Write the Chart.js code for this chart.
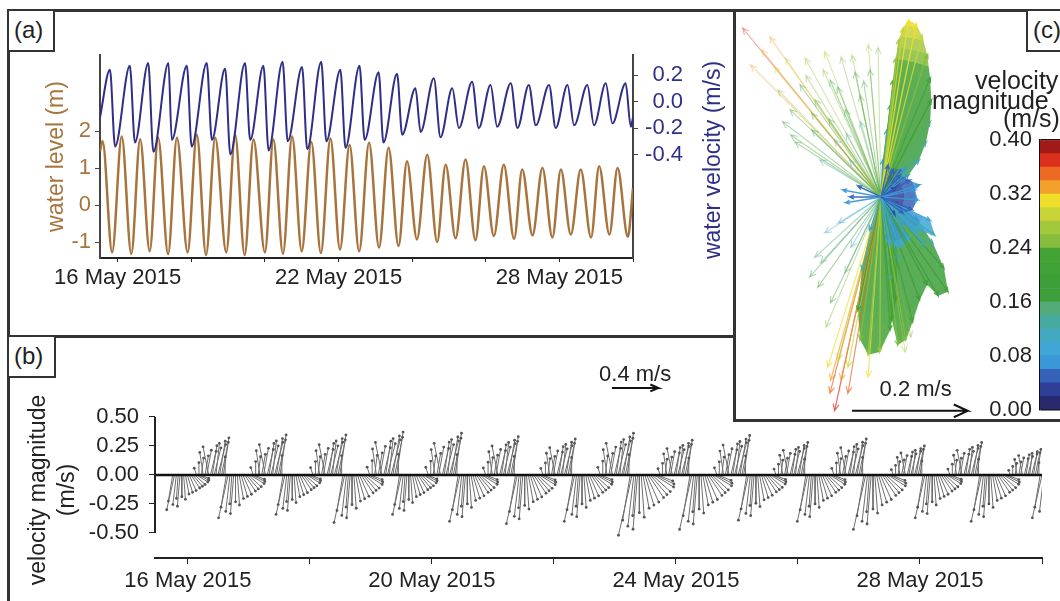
<!DOCTYPE html>
<html>
<head>
<meta charset="utf-8">
<title>Water level, velocity and velocity vectors, May 2015</title>
<script src="https://cdn.jsdelivr.net/npm/chart.js@4.4.1/dist/chart.umd.min.js"></script>
<style>
  html, body { margin: 0; padding: 0; background: #fff; }
  body { position: relative; width: 1060px; height: 601px; overflow: hidden; font-family: "Liberation Sans", Arial, sans-serif; color: #222; }
  canvas { position: absolute; }
  .rule { position: absolute; background: #333; }
  .tag { position: absolute; box-sizing: border-box; border: 2px solid #333; background: #fff; font-size: 24px; line-height: 38px; padding-left: 5px; }
  .rot { position: absolute; white-space: nowrap; text-align: center; transform: rotate(-90deg); font-size: 23px; width: 260px; height: 30px; line-height: 30px; }
  .cbt { position: absolute; white-space: nowrap; font-size: 25px; line-height: 24px; }
</style>
</head>
<body>
<canvas id="chartA" width="675" height="325" style="left:8px;top:12px"></canvas>
<canvas id="chartB" width="1052" height="261" style="left:8px;top:340px"></canvas>
<canvas id="chartC" width="323" height="408" style="left:737px;top:12px"></canvas>
<canvas id="chartCB" width="75" height="312" style="left:985px;top:119px"></canvas>

<div class="rule" style="left:7px;top:9px;width:1053px;height:3px"></div>
<div class="rule" style="left:7px;top:9px;width:3px;height:592px"></div>
<div class="rule" style="left:7px;top:335px;width:728px;height:3px"></div>
<div class="rule" style="left:733px;top:9px;width:3px;height:413px"></div>
<div class="rule" style="left:733px;top:419px;width:327px;height:3px"></div>
<div class="tag" style="left:7px;top:9px;width:48px;height:43px">(a)</div>
<div class="tag" style="left:7px;top:335px;width:49px;height:43px">(b)</div>
<div class="tag" style="left:1026px;top:9px;width:45px;height:43px">(c)</div>

<div class="rot" style="left:582px;top:145px;color:#2f2f88">water velocity (m/s)</div>
<div class="rot" style="left:-93px;top:475px">velocity magnitude</div>
<div class="rot" style="left:-64px;top:475px">(m/s)</div>
<div class="cbt" style="left:975px;top:68px">velocity</div>
<div class="cbt" style="left:932px;top:88px">magnitude</div>
<div class="cbt" style="left:1003px;top:106px">(m/s)</div>

<script>
// ---------- (a) highs and lows (day of May 2015) ----------
const levelTimes = [15.52, 15.59, 15.85, 16.11, 16.37, 16.61, 16.87, 17.10, 17.37, 17.61, 17.90, 18.15, 18.40, 18.65,
  18.95, 19.19, 19.45, 19.69, 20.00, 20.23, 20.49, 20.74, 21.00, 21.26, 21.52, 21.78, 22.04, 22.30, 22.56, 22.83,
  23.10, 23.36, 23.63, 23.86, 24.13, 24.41, 24.68, 24.91, 25.18, 25.45, 25.72, 25.95, 26.22, 26.49, 26.77, 26.99,
  27.27, 27.54, 27.81, 28.04, 28.31, 28.58, 28.86, 29.08, 29.36, 29.58, 29.86, 30.00];
const levelValues = [1.45, 1.72, -1.28, 1.85, -1.32, 1.78, -1.25, 1.82, -1.33, 1.82, -1.28, 1.90, -1.35, 1.82,
  -1.28, 1.90, -1.35, 1.77, -1.28, 1.77, -1.32, 1.85, -1.25, 1.70, -1.30, 1.80, -1.20, 1.62, -1.25, 1.68,
  -1.15, 1.55, -1.11, 1.18, -0.93, 1.36, -1.00, 1.09, -0.90, 1.23, -0.95, 1.05, -0.84, 1.09, -0.92, 0.96,
  -0.82, 1.00, -0.88, 0.96, -0.80, 0.96, -0.88, 1.05, -0.80, 1.00, -0.86, 0.45];
const velTimes = [15.52, 15.79, 15.93, 16.33, 16.47, 16.83, 16.97, 17.38, 17.47, 17.88, 18.01, 18.42, 18.56, 18.92,
  19.06, 19.46, 19.60, 19.96, 20.10, 20.48, 20.62, 21.01, 21.15, 21.53, 21.67, 22.05, 22.19, 22.57, 22.71, 23.09,
  23.22, 23.59, 23.73, 24.09, 24.23, 24.59, 24.77, 25.09, 25.27, 25.63, 25.81, 26.13, 26.31, 26.68, 26.86, 27.17,
  27.36, 27.72, 27.90, 28.22, 28.40, 28.76, 28.94, 29.26, 29.44, 29.80, 29.94, 30.00];
const velValues = [-0.12, 0.24, -0.34, 0.27, -0.31, 0.29, -0.38, 0.29, -0.29, 0.27, -0.34, 0.29, -0.29, 0.25,
  -0.40, 0.29, -0.29, 0.27, -0.37, 0.30, -0.30, 0.26, -0.36, 0.30, -0.30, 0.24, -0.35, 0.27, -0.29, 0.22,
  -0.31, 0.21, -0.25, 0.10, -0.23, 0.175, -0.27, 0.10, -0.20, 0.15, -0.20, 0.125, -0.19, 0.137, -0.20, 0.125,
  -0.18, 0.125, -0.20, 0.125, -0.18, 0.125, -0.18, 0.137, -0.165, 0.137, -0.19, -0.12];
const tickDaysA = [16, 18, 20, 22, 24, 26, 28, 30];
const labelDaysA = [16, 22, 28];
const levelTicks = [-1, 0, 1, 2];
const velTicks = [-0.4, -0.2, 0, 0.2];

// ---------- (b) stick plot: one flood/ebb pattern, scaled per tidal cycle ----------
const cycleTimes = [15.70, 16.58, 17.51, 18.49, 19.42, 20.38, 21.32, 22.26, 23.20, 24.18, 25.11, 26.08, 27.03, 28.00, 28.93, 29.92];
const floodPeak = [0, 0.32, 0.345, 0.345, 0.37, 0.36, 0.33, 0.31, 0.36, 0.30, 0.34, 0.28, 0.31, 0.25, 0.28, 0.22];
const ebbPeak = [0.30, 0.37, 0.34, 0.41, 0.34, 0.40, 0.42, 0.40, 0.52, 0.47, 0.39, 0.40, 0.47, 0.37, 0.40, 0.37];
const floodOffset = [-0.44, -0.40, -0.36, -0.33, -0.30, -0.27, -0.24, -0.21, -0.18, -0.15, -0.12, -0.09, -0.06, -0.03, 0.00, 0.03];
const floodU = [-0.02, 0.00, 0.02, -0.03, 0.03, 0.04, -0.05, 0.05, 0.04, 0.06, 0.03, 0.07, 0.05, 0.06, 0.05, 0.00];
const floodV = [0.06, 0.11, 0.15, 0.20, 0.17, 0.22, 0.25, 0.21, 0.26, 0.24, 0.28, 0.27, 0.30, 0.29, 0.33, 0.16];
const ebbOffset = [0.05, 0.08, 0.11, 0.14, 0.17, 0.20, 0.23, 0.26, 0.29, 0.32, 0.35, 0.38, 0.41, 0.44, 0.47, 0.50];
const ebbU = [-0.05, -0.09, -0.04, -0.02, -0.03, 0.00, 0.02, 0.04, 0.06, 0.08, 0.10, 0.11, 0.12, 0.13, 0.12, 0.10];
const ebbV = [-0.30, -0.40, -0.34, -0.27, -0.36, -0.25, -0.28, -0.22, -0.20, -0.18, -0.15, -0.13, -0.11, -0.08, -0.06, -0.04];
const tickDaysB = [16, 18, 20, 22, 24, 26, 28, 30];
const labelDaysB = [16, 20, 24, 28];
const stickTicks = [-0.5, -0.25, 0, 0.25, 0.5];

// ---------- (c) velocity vectors (east, north in m/s) ----------
const upperFanU = [-0.239, -0.192, -0.225, -0.178, -0.131, -0.097, -0.069, -0.045, -0.022, -0.005, -0.156, -0.157,
  -0.114, -0.088, -0.140, -0.119, -0.062, -0.036, -0.080, -0.054, -0.106, -0.149, -0.206, -0.019,
  -0.170, -0.130, -0.100, -0.075, -0.050, -0.030, -0.120, -0.090, -0.185, -0.165, -0.060, -0.035];
const upperFanV = [0.292, 0.277, 0.228, 0.185, 0.240, 0.251, 0.242, 0.216, 0.263, 0.258, 0.107, 0.151,
  0.168, 0.202, 0.194, 0.116, 0.151, 0.176, 0.099, 0.064, 0.064, 0.095, 0.254, 0.220,
  0.130, 0.210, 0.220, 0.190, 0.245, 0.200, 0.145, 0.135, 0.225, 0.240, 0.110, 0.130];
const lowerFanU = [-0.123, -0.114, -0.097, -0.074, -0.109, -0.095, -0.087, -0.062, -0.104, -0.052, 0.052, 0.042];
const lowerFanV = [-0.138, -0.104, -0.062, -0.045, -0.156, -0.225, -0.183, -0.131, -0.114, -0.087, -0.242, -0.268];
const redFanU = [-0.080, -0.087, -0.088, -0.074, -0.069, -0.057, -0.092, -0.022, -0.057];
const redFanV = [-0.369, -0.317, -0.339, -0.282, -0.317, -0.294, -0.294, -0.311, -0.339];
const upperLobeU = [0.003, 0.010, 0.016, 0.021, 0.026, 0.031, 0.038, 0.048, 0.061, 0.071, 0.080, 0.085, 0.087, 0.085, 0.078, 0.066, 0.048, 0.026];
const upperLobeV = [0.064, 0.116, 0.159, 0.202, 0.240, 0.272, 0.292, 0.306, 0.299, 0.279, 0.246, 0.206, 0.168, 0.130, 0.095, 0.064, 0.038, 0.016];
const lowerLobeU = [-0.019, -0.033, -0.040, -0.036, -0.022, -0.002, 0.016, 0.026, 0.029, 0.024];
const lowerLobeV = [-0.057, -0.126, -0.196, -0.247, -0.273, -0.268, -0.230, -0.178, -0.109, -0.057];
const rightLobeU = [0.033, 0.064, 0.090, 0.109, 0.116, 0.099, 0.080, 0.067, 0.055, 0.043, 0.029, 0.019, 0.016, 0.012];
const rightLobeV = [-0.014, -0.040, -0.080, -0.123, -0.164, -0.171, -0.152, -0.178, -0.216, -0.247, -0.256, -0.213, -0.144, -0.074];
const cyanU = [0.085, 0.093, 0.059, 0.076, 0.042, 0.024, 0.050, 0.033, 0.016];
const cyanV = [-0.040, -0.066, -0.057, -0.083, -0.048, -0.031, -0.074, -0.088, -0.083];
const blueU = [0.012, 0.021, 0.042, 0.033, 0.050, 0.067, 0.059, 0.064, 0.054, 0.038];
const blueV = [0.055, 0.047, 0.050, 0.038, 0.029, 0.021, 0.012, -0.005, -0.022, -0.028];
const blueLeftU = [-0.066, -0.054, -0.040, -0.061];
const blueLeftV = [0.012, 0.000, 0.019, -0.010];

// colour bar, 0.02 m/s per band, from 0.00 upwards
const cbarColors = ['#29296f', '#2f3f98', '#3462b6', '#3a98d8', '#3fa6d6', '#42a9c0', '#47aaa0', '#53ab7c', '#3e9f3c', '#3d9f38',
  '#40a136', '#45a336', '#86bd3c', '#a2c83e', '#c8d436', '#efdf2a', '#f3a12c', '#ec6a24', '#dc2f1e', '#a11a18'];
const cbarTicks = [0, 0.08, 0.16, 0.24, 0.32, 0.40];

// ---------- shared look ----------
const INK = '#222';
const BROWN = '#a8743e';
const NAVY = '#2f2f88';
const FONT = { family: "'Liberation Sans', Arial, sans-serif", size: 22 };
Chart.defaults.font.family = FONT.family;
const noChrome = { legend: { display: false }, tooltip: { enabled: false } };

function hexA(hex, a) {
  const n = parseInt(hex.slice(1), 16);
  return 'rgba(' + (n >> 16) + ',' + ((n >> 8) & 255) + ',' + (n & 255) + ',' + a + ')';
}
function magColor(m, a) {
  const k = Math.max(0, Math.min(cbarColors.length - 1, Math.floor(m / 0.02)));
  return hexA(cbarColors[k], a);
}
function fixedTicks(list) {
  return s => { s.ticks = list.map(v => ({ value: v })); };
}

// ---------- (a) ----------
new Chart(document.getElementById('chartA'), {
  type: 'line',
  data: {
    datasets: [
      { data: velTimes.map((t, i) => ({ x: t, y: velValues[i] })), yAxisID: 'y2', borderColor: NAVY, borderWidth: 2,
        pointRadius: 0, cubicInterpolationMode: 'monotone' },
      { data: levelTimes.map((t, i) => ({ x: t, y: levelValues[i] })), yAxisID: 'y', borderColor: BROWN, borderWidth: 2.5,
        pointRadius: 0, cubicInterpolationMode: 'monotone' }
    ]
  },
  options: {
    responsive: false, animation: false, events: [],
    layout: { padding: { top: 43, left: 0, right: 0, bottom: 0 } },
    plugins: noChrome,
    scales: {
      x: {
        type: 'linear', min: 15.52, max: 30, afterBuildTicks: fixedTicks(tickDaysA),
        ticks: { autoSkip: false, maxRotation: 0, color: INK, font: FONT, padding: 3,
          callback: v => labelDaysA.includes(v) ? v + ' May 2015' : '' },
        grid: { drawOnChartArea: false, tickLength: 4, color: INK },
        border: { color: INK, width: 2 },
        afterFit: s => { s.height = 79; }
      },
      y: {
        position: 'left', min: -1.432, max: 4.054, afterBuildTicks: fixedTicks(levelTicks),
        ticks: { color: BROWN, font: FONT, padding: 4 },
        grid: { drawOnChartArea: false, tickLength: 5, color: '#444' },
        border: { color: '#444', width: 2 },
        title: { display: true, text: 'water level (m)', color: BROWN, font: { size: 23 }, padding: { top: 35, bottom: 0 } },
        afterFit: s => { s.width = 92; }
      },
      y2: {
        position: 'right', min: -1.181, max: 0.351, afterBuildTicks: fixedTicks(velTicks),
        ticks: { color: NAVY, font: FONT, crossAlign: 'far', callback: v => v.toFixed(1) },
        grid: { drawOnChartArea: false, tickLength: 5, color: '#444' },
        border: { color: '#444', width: 2 },
        afterFit: s => { s.width = 50; }
      }
    }
  }
});

// ---------- (b) ----------
const kx = 1.9; // days per m/s, so sticks keep their true direction on screen
const stickPoints = [];
function addStick(t, u, v) {
  stickPoints.push({ x: t, y: 0 }, { x: t + u * kx, y: v }, { x: t, y: null });
}
cycleTimes.forEach((T, c) => {
  const gf = floodPeak[c] / 0.33, ge = ebbPeak[c] / 0.40;
  if (gf > 0) floodOffset.forEach((o, i) => addStick(T + o, floodU[i] * gf, floodV[i] * gf));
  ebbOffset.forEach((o, i) => addStick(T + o, ebbU[i] * ge, ebbV[i] * ge));
});
const refB = { day: 22.95, y: 0.75, speed: 0.4 };
const refBEnd = refB.day + refB.speed * kx;

const stickExtras = {
  id: 'stickExtras',
  afterDraw(chart) {
    const { ctx, chartArea, scales: { x, y } } = chart;
    ctx.save();
    ctx.strokeStyle = INK; ctx.lineWidth = 2;
    ctx.beginPath();
    ctx.moveTo(chartArea.left, y.getPixelForValue(0.5));
    ctx.lineTo(chartArea.left, y.getPixelForValue(-0.5));
    ctx.stroke();
    ctx.fillStyle = INK; ctx.font = '22px ' + FONT.family; ctx.textAlign = 'center'; ctx.textBaseline = 'middle';
    ctx.fillText('0.4 m/s', x.getPixelForValue((refB.day + refBEnd) / 2), y.getPixelForValue(0.86));
    ctx.restore();
  }
};

new Chart(document.getElementById('chartB'), {
  type: 'scatter',
  data: {
    datasets: [
      { data: [{ x: 15.46, y: 0 }, { x: 30, y: 0 }], showLine: true, borderColor: '#111', borderWidth: 2.5, pointRadius: 0 },
      { data: [{ x: refB.day, y: refB.y }, { x: refBEnd, y: refB.y }, { x: refBEnd - 0.13, y: refB.y + 0.03 },
               { x: refBEnd, y: refB.y }, { x: refBEnd - 0.13, y: refB.y - 0.03 }],
        showLine: true, borderColor: '#111', borderWidth: 2, pointRadius: 0 },
      { data: stickPoints, showLine: true, spanGaps: false, borderColor: '#6e6e6e', borderWidth: 1,
        pointRadius: c => (c.dataIndex % 3 === 1 ? 1.4 : 0), pointBackgroundColor: '#555', pointBorderWidth: 0 }
    ]
  },
  options: {
    responsive: false, animation: false, events: [],
    layout: { padding: { top: 25, left: 0, right: 18, bottom: 0 } },
    plugins: noChrome,
    scales: {
      x: {
        type: 'linear', min: 15.46, max: 30, afterBuildTicks: fixedTicks(tickDaysB),
        ticks: { autoSkip: false, maxRotation: 0, color: INK, font: FONT, padding: 4,
          callback: v => labelDaysB.includes(v) ? v + ' May 2015' : '' },
        grid: { drawOnChartArea: false, tickLength: 6, color: INK },
        border: { color: INK, width: 2 },
        afterFit: s => { s.height = 43; }
      },
      y: {
        min: -0.716, max: 0.948, afterBuildTicks: fixedTicks(stickTicks),
        ticks: { color: INK, font: FONT, padding: 10, callback: v => v.toFixed(2) },
        grid: { drawOnChartArea: false, tickLength: 6, color: INK },
        border: { display: false },
        afterFit: s => { s.width = 147; }
      }
    }
  },
  plugins: [stickExtras]
});

// ---------- (c) ----------
function arrowPoints(us, vs, head) {
  const pts = [];
  us.forEach((u, i) => {
    const v = vs[i], a = Math.atan2(v, u);
    pts.push({ x: 0, y: 0 }, { x: u, y: v },
      { x: u - head * Math.cos(a - 0.45), y: v - head * Math.sin(a - 0.45) }, { x: u, y: null },
      { x: u, y: v },
      { x: u - head * Math.cos(a + 0.45), y: v - head * Math.sin(a + 0.45) }, { x: u, y: null });
  });
  return pts;
}
// listed bottom layer first
const arrowGroups = [
  { u: upperFanU, v: upperFanV, alpha: 0.42, width: 1.1, head: 0.012 },
  { u: lowerFanU, v: lowerFanV, alpha: 0.45, width: 1.1, head: 0.012 },
  { u: redFanU, v: redFanV, alpha: 0.7, width: 1.2, head: 0.012 },
  { u: upperLobeU, v: upperLobeV, alpha: 0.9, width: 1.3, head: 0.009, fill: [0.18, 0.40] },
  { u: lowerLobeU, v: lowerLobeV, alpha: 0.9, width: 1.3, head: 0.009, fill: [0.18, 0.23] },
  { u: rightLobeU, v: rightLobeV, alpha: 0.9, width: 1.3, head: 0.009, fill: [0.16, 0.22] },
  { u: cyanU, v: cyanV, alpha: 0.9, width: 1.4, head: 0.008, fill: [0.06, 0.12] },
  { u: blueU, v: blueV, alpha: 0.95, width: 1.4, head: 0.008, fill: [0.02, 0.07] },
  { u: blueLeftU, v: blueLeftV, alpha: 0.95, width: 1.4, head: 0.008 }
];
arrowGroups.forEach(g => { g.mag = g.u.map((u, i) => Math.hypot(u, g.v[i])); });

const refC = { u: -0.05, v: -0.37, speed: 0.2 };
const refCEnd = refC.u + refC.speed;

const lobeFill = {
  id: 'lobeFill',
  beforeDatasetsDraw(chart) {
    const { ctx, scales: { x, y } } = chart;
    const ox = x.getPixelForValue(0), oy = y.getPixelForValue(0);
    const R = x.getPixelForValue(0.4) - ox;
    arrowGroups.forEach(g => {
      if (!g.fill) return;
      const grad = ctx.createRadialGradient(ox, oy, 0, ox, oy, R);
      cbarColors.forEach((c, k) => {
        const m = Math.min(Math.max(k * 0.02 + 0.01, g.fill[0]), g.fill[1]);
        grad.addColorStop(k / 20, magColor(m, 0.85));
        grad.addColorStop((k + 1) / 20 - 0.001, magColor(m, 0.85));
      });
      ctx.save();
      ctx.fillStyle = grad;
      ctx.beginPath();
      ctx.moveTo(ox, oy);
      g.u.forEach((u, i) => ctx.lineTo(x.getPixelForValue(u), y.getPixelForValue(g.v[i])));
      ctx.closePath();
      ctx.fill();
      ctx.restore();
    });
  },
  afterDraw(chart) {
    const { ctx, scales: { x, y } } = chart;
    ctx.save();
    ctx.fillStyle = INK; ctx.font = '22px ' + FONT.family; ctx.textAlign = 'center'; ctx.textBaseline = 'middle';
    ctx.fillText('0.2 m/s', x.getPixelForValue(refC.u + 0.11), y.getPixelForValue(refC.v + 0.036));
    ctx.restore();
  }
};

const vectorSets = arrowGroups.map(g => ({
  data: arrowPoints(g.u, g.v, g.head),
  showLine: true, spanGaps: false, pointRadius: 0, borderWidth: g.width,
  borderColor: magColor(0.2, g.alpha),
  segment: { borderColor: c => magColor(g.mag[Math.floor(c.p0DataIndex / 7)], g.alpha) }
})).reverse();

new Chart(document.getElementById('chartC'), {
  type: 'scatter',
  data: {
    datasets: [
      { data: [{ x: refC.u, y: refC.v }, { x: refCEnd, y: refC.v }, { x: refCEnd - 0.024, y: refC.v + 0.011 },
               { x: refCEnd, y: refC.v }, { x: refCEnd - 0.024, y: refC.v - 0.011 }],
        showLine: true, borderColor: '#111', borderWidth: 2, pointRadius: 0 }
    ].concat(vectorSets)
  },
  options: {
    responsive: false, animation: false, events: [],
    layout: { padding: 0 },
    plugins: noChrome,
    scales: {
      x: { type: 'linear', min: -0.249, max: 0.3097, display: false },
      y: { type: 'linear', min: -0.3858, max: 0.320, display: false }
    }
  },
  plugins: [lobeFill]
});

// colour bar
new Chart(document.getElementById('chartCB'), {
  type: 'bar',
  data: {
    labels: [''],
    datasets: cbarColors.map(c => ({ data: [0.02], backgroundColor: c, borderWidth: 0, barPercentage: 1, categoryPercentage: 1 }))
  },
  options: {
    responsive: false, animation: false, events: [],
    layout: { padding: { top: 14, bottom: 14, left: 0, right: 0 } },
    plugins: noChrome,
    scales: {
      x: { stacked: true, display: false },
      y: {
        stacked: true, min: 0, max: 0.4, z: 1, afterBuildTicks: fixedTicks(cbarTicks),
        ticks: { color: INK, font: FONT, padding: 8, callback: v => v.toFixed(2) },
        grid: { color: '#111', lineWidth: 1.5, drawTicks: false },
        border: { color: '#111', width: 1.5 },
        afterFit: s => { s.width = 55; }
      }
    }
  }
});
</script>
</body>
</html>
